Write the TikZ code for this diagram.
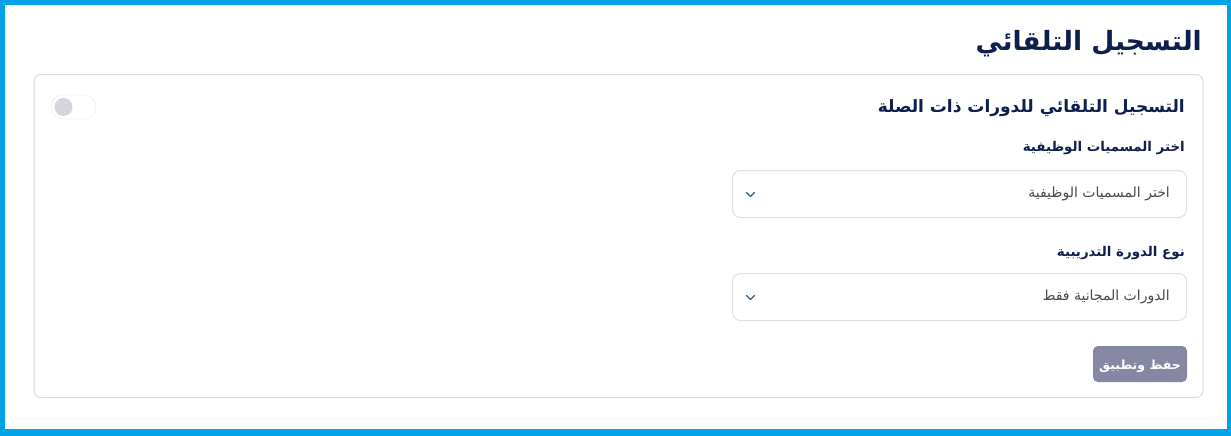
\documentclass[tikz,border=0pt]{standalone}
\usepackage{fontspec}
\TeXXeTstate=1
\newfontfamily\arabicfont[Script=Arabic]{DejaVu Sans}
\definecolor{frameblue}{HTML}{00A3E8}
\definecolor{navy}{HTML}{0E1F4D}
\definecolor{cardline}{HTML}{DCDCDC}
\definecolor{fieldline}{HTML}{E0E0E0}
\definecolor{fieldtext}{HTML}{4A4A4A}
\definecolor{btnfill}{HTML}{8587A3}
\definecolor{knob}{HTML}{D4D3DF}
\definecolor{chev}{HTML}{2D5C8E}
\definecolor{toggleline}{HTML}{F2F2F2}
\tikzset{
  x=1pt, y=-1pt,
  card/.style={draw=cardline, line width=1pt, fill=white, rounded corners=7pt},
  field/.style={draw=fieldline, line width=1pt, fill=white, rounded corners=8pt},
  btn/.style={fill=btnfill, rounded corners=5pt},
  ttl/.style={inner sep=0pt, anchor=base east, text=navy, font=\arabicfont\bfseries\fontsize{26.5}{30}\selectfont},
  subttl/.style={inner sep=0pt, anchor=base east, text=navy, font=\arabicfont\bfseries\fontsize{17}{20}\selectfont},
  lbl/.style={inner sep=0pt, anchor=base east, text=navy, font=\arabicfont\bfseries\fontsize{13.4}{16}\selectfont},
  ftxt/.style={inner sep=0pt, anchor=base east, text=fieldtext, font=\arabicfont\fontsize{14}{16}\selectfont},
  btxt/.style={inner sep=0pt, anchor=base, text=white, font=\arabicfont\bfseries\fontsize{12.5}{15}\selectfont},
  chevron/.style={draw=chev, line width=1.3pt, line cap=round, line join=round},
}
\begin{document}
\begin{tikzpicture}
\useasboundingbox (0,0) rectangle (1231,436);
% outer frame
\fill[frameblue] (0,0) rectangle (1231,436);
\fill[white] (5,5) rectangle (1226.5,429);
% title
\node[ttl] (title) at (1202,51) {\beginR التسجيل التلقائي\endR};
% card
\draw[card] (34,74.5) rectangle (1203,397.5);
% subtitle
\node[subttl] (sub) at (1185,112) {\beginR التسجيل التلقائي للدورات ذات الصلة\endR};
% toggle
\draw[draw=toggleline, fill=white, line width=0.8pt, rounded corners=12pt] (51,95) rectangle (96,119);
\fill[knob] (63.5,107) circle (9pt);
% label 1
\node[lbl] (l1) at (1185,151) {\beginR اختر المسميات الوظيفية\endR};
% field 1
\draw[field] (732.5,170.5) rectangle (1186.5,217.5);
\node[ftxt] (f1) at (1170,197.5) {\beginR اختر المسميات الوظيفية\endR};
\coordinate (c1) at (750.5,194.5);
\draw[chevron] ([xshift=-4pt,yshift=2pt]c1) -- ([yshift=-2pt]c1) -- ([xshift=4pt,yshift=2pt]c1);
% label 2
\node[lbl] (l2) at (1185,256) {\beginR نوع الدورة التدريبية\endR};
% field 2
\draw[field] (732.5,273.5) rectangle (1186.5,320.5);
\node[ftxt] (f2) at (1170,300.5) {\beginR الدورات المجانية فقط\endR};
\coordinate (c2) at (750.5,297.5);
\draw[chevron] ([xshift=-4pt,yshift=2pt]c2) -- ([yshift=-2pt]c2) -- ([xshift=4pt,yshift=2pt]c2);
% button
\fill[btn] (1093,346) rectangle (1187,382);
\node[btxt] (b) at (1140,369) {\beginR حفظ وتطبيق\endR};
\end{tikzpicture}
\end{document}
